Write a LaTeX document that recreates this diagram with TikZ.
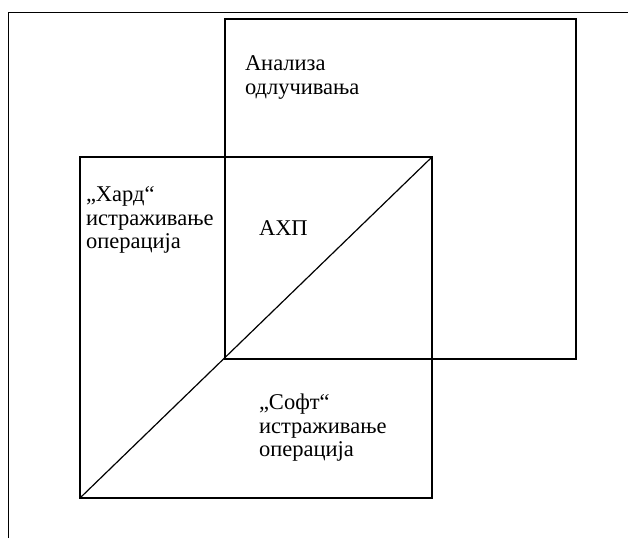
\documentclass[tikz,border=0pt]{standalone}
\usepackage{fontspec}
\setmainfont{Liberation Serif}
\begin{document}
\begin{tikzpicture}[x=1pt,y=-1pt,
  sq/.style={draw=black,line width=1.5pt,inner sep=0pt,outer sep=0pt,anchor=north west},
  lbl/.style={inner sep=0pt,outer sep=0pt,anchor=north west,align=left,font=\fontsize{22.5}{23.5}\selectfont},
  frameline/.style={draw=black,line width=0.9pt},
  diag/.style={draw=black,line width=1.2pt}]
\useasboundingbox (0,0) rectangle (628,538);
% frame
\coordinate (ftl) at (8,12);
\coordinate (fbl) at (8,538);
\coordinate (ftr) at (628,12);
\draw[frameline] (fbl) -- (ftl) -- (ftr);
% squares
\node[sq,minimum width=351pt,minimum height=340pt] (up) at (225,19) {};
\node[sq,minimum width=352pt,minimum height=341pt] (lo) at (80,157) {};
\draw[diag] (lo.south west) -- (lo.north east);
% labels
\node[lbl] (da) at (245,56) {Анализа\\одлучивања};
\node[lbl] (hard) at (86,187) {„Хард“\\истраживање\\операција};
\node[lbl] (ahp) at (259,221) {АХП};
\node[lbl] (soft) at (259,394) {„Софт“\\истраживање\\операција};
\end{tikzpicture}
\end{document}
